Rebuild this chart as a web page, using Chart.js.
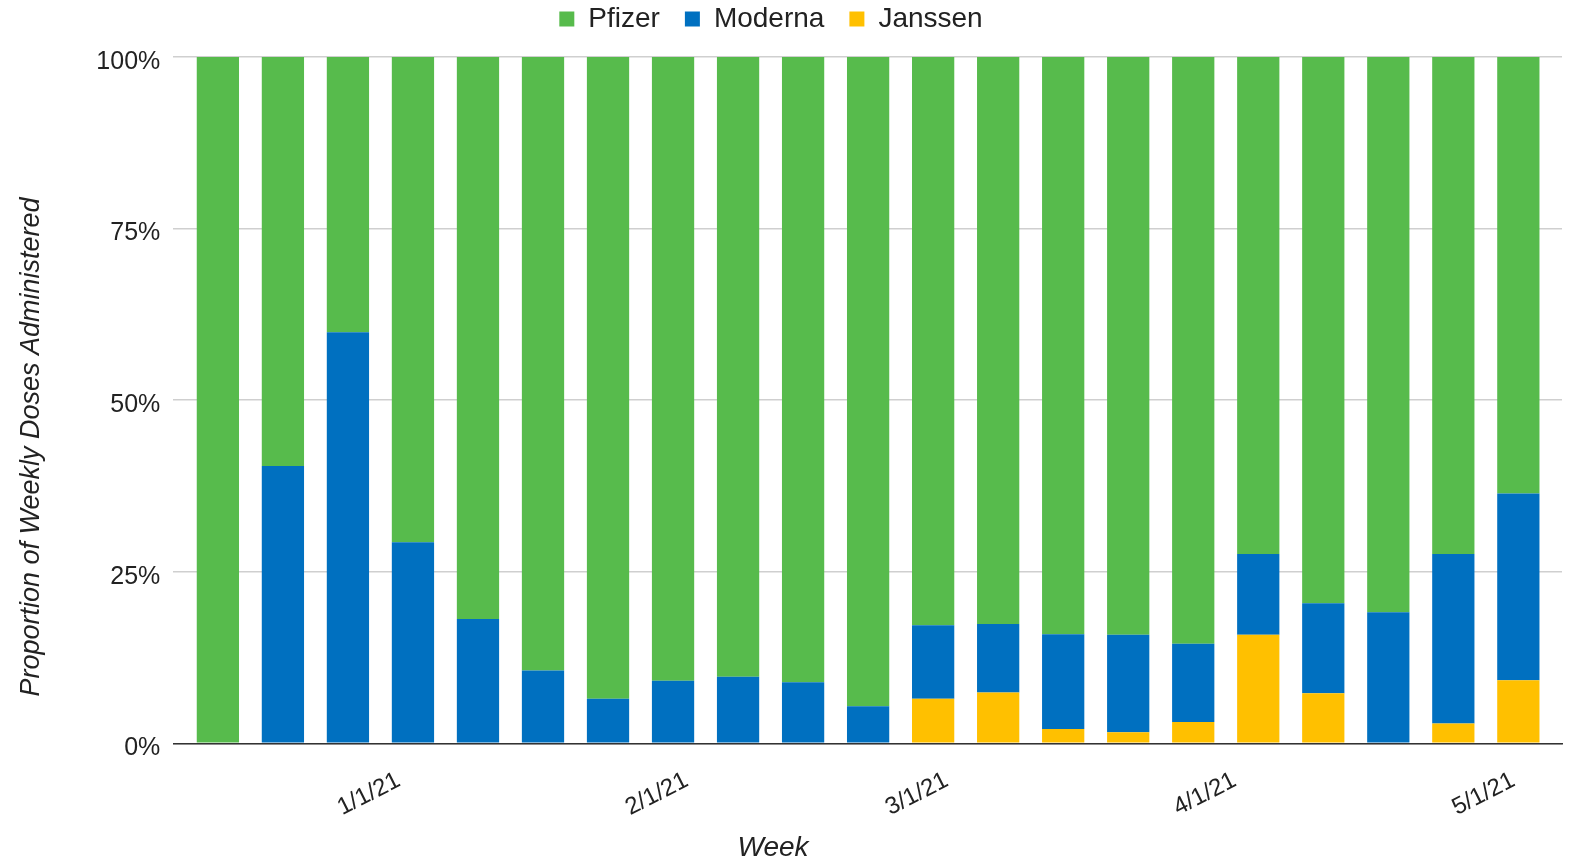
<!DOCTYPE html>
<html>
<head>
<meta charset="utf-8">
<title>Weekly doses by manufacturer</title>
<script src="https://cdn.jsdelivr.net/npm/chart.js@4.4.1/dist/chart.umd.min.js"></script>
<style>
  html, body { margin: 0; padding: 0; background: #fff; }
  #wrap { width: 1575px; height: 862px; position: relative; }
</style>
</head>
<body>
<div id="wrap"><canvas id="dosesChart"></canvas></div>
<script>
// week (Saturday) of each bar
const weeks = ["12/12/20", "12/19/20", "12/26/20", "1/2/21", "1/9/21", "1/16/21", "1/23/21",
  "1/30/21", "2/6/21", "2/13/21", "2/20/21", "2/27/21", "3/6/21", "3/13/21", "3/20/21",
  "3/27/21", "4/3/21", "4/10/21", "4/17/21", "4/24/21", "5/1/21"];

// share of weekly doses, %
const pfizer  = [100, 59.6, 40.1, 70.7, 81.9, 89.4, 93.5, 90.9, 90.3, 91.1, 94.6,
  82.8, 82.6, 84.1, 84.2, 85.5, 72.4, 79.6, 80.9, 72.4, 63.6];
const moderna = [0, 40.4, 59.9, 29.3, 18.1, 10.6, 6.5, 9.1, 9.7, 8.9, 5.4,
  10.7, 10.0, 13.8, 14.2, 11.4, 11.8, 13.1, 19.1, 24.7, 27.2];
const janssen = [0, 0, 0, 0, 0, 0, 0, 0, 0, 0, 0,
  6.5, 7.4, 2.1, 1.6, 3.1, 15.8, 7.3, 0, 2.9, 9.2];

const tickLabels = ["1/1/21", "2/1/21", "3/1/21", "4/1/21", "5/1/21"];
const yTicks = [0, 25, 50, 75, 100];

const xTitle = "Week";
const yTitle = "Proportion of Weekly Doses Administered";

const FONT = "'Liberation Sans', Arial, sans-serif";
const TEXT = "#222";

// dates -> days after the first week
function toDay(s) {
  const [m, d, y] = s.split("/").map(Number);
  return Date.UTC(2000 + y, m - 1, d) / 864e5;
}
const day0 = toDay(weeks[0]);
const xs = weeks.map(w => toDay(w) - day0);
const tickDays = tickLabels.map(t => toDay(t) - day0);

function series(vals) {
  return vals.map((v, i) => ({ x: xs[i], y: v }));
}

// axis titles sit off-centre in the original, so draw them ourselves
const axisTitles = {
  id: "axisTitles",
  afterDraw(chart) {
    const c = chart.ctx;
    c.save();
    c.fillStyle = TEXT;
    c.textAlign = "center";
    c.textBaseline = "middle";
    c.font = "italic 28px " + FONT;
    c.fillText(xTitle, 773, 848);
    c.translate(31, 447);
    c.rotate(-Math.PI / 2);
    c.font = "italic 27px " + FONT;
    c.fillText(yTitle, 0, 0);
    c.restore();
  }
};

const ctx = document.getElementById("dosesChart");

new Chart(ctx, {
  type: "bar",
  data: {
    datasets: [
      { label: "Janssen", data: series(janssen), backgroundColor: "#ffc000" },
      { label: "Moderna", data: series(moderna), backgroundColor: "#0070c0" },
      { label: "Pfizer", data: series(pfizer), backgroundColor: "#57bb4c" }
    ]
  },
  plugins: [axisTitles],
  options: {
    responsive: true,
    maintainAspectRatio: false,
    animation: false,
    categoryPercentage: 1,
    barPercentage: 0.65,
    layout: { padding: { top: -20, left: -20, right: 13, bottom: 0 } },
    plugins: {
      tooltip: { enabled: false },
      legend: {
        position: "top",
        reverse: true,
        labels: {
          boxWidth: 15,
          boxHeight: 15,
          padding: 25,
          color: TEXT,
          font: { family: FONT, size: 28 }
        }
      },
      // empty spacer between legend and plot
      title: {
        display: true,
        text: " ",
        weight: 500,
        padding: 0,
        font: { size: 14, lineHeight: 1 }
      }
    },
    scales: {
      x: {
        type: "linear",
        stacked: true,
        offset: false,
        min: -4.8,
        max: 144.7,
        grid: { display: false, drawTicks: false, offset: false },
        border: { display: true, color: "#333", width: 1.5 },
        afterBuildTicks: axis => {
          axis.ticks = tickDays.map(v => ({ value: v }));
        },
        afterFit: axis => { axis.height = 118.7; },
        ticks: {
          autoSkip: false,
          minRotation: 27,
          maxRotation: 27,
          padding: 23,
          labelOffset: -5,
          color: TEXT,
          font: { family: FONT, size: 24 },
          callback: v => tickLabels[tickDays.indexOf(v)]
        }
      },
      y: {
        stacked: true,
        min: 0,
        max: 100,
        afterBuildTicks: axis => {
          axis.ticks = yTicks.map(v => ({ value: v }));
        },
        afterFit: axis => { axis.width = 193.3; },
        grid: { color: "#cfcfcf", lineWidth: 1.5, drawTicks: false },
        border: { display: false },
        ticks: {
          padding: 13,
          labelOffset: 5,
          color: TEXT,
          font: { family: FONT, size: 25 },
          callback: v => v + "%"
        }
      }
    }
  }
});
</script>
</body>
</html>
